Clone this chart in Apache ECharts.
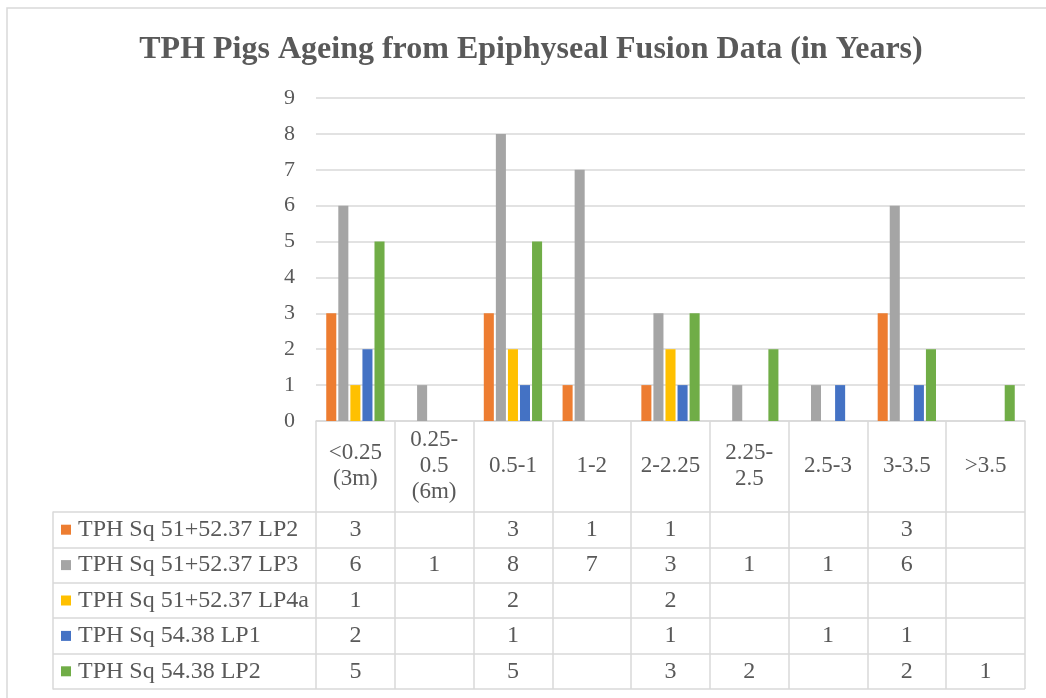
<!DOCTYPE html>
<html>
<head>
<meta charset="utf-8">
<script src="https://cdn.jsdelivr.net/npm/echarts@6/dist/echarts.min.js"></script>
<style>
  html, body { margin: 0; padding: 0; background: #fff; }
  #chart { width: 1046px; height: 698px; }
</style>
</head>
<body>
<div id="chart"></div>
<script>
// Age classes (years) along the category axis
const categories = ['<0.25\n(3m)', '0.25-\n0.5\n(6m)', '0.5-1', '1-2', '2-2.25', '2.25-\n2.5', '2.5-3', '3-3.5', '>3.5'];

// Counts per context; null = no specimens in that age class
const sq51LP2  = [3, null, 3, 1, 1, null, null, 3, null];
const sq51LP3  = [6, 1, 8, 7, 3, 1, 1, 6, null];
const sq51LP4a = [1, null, 2, null, 2, null, null, null, null];
const sq54LP1  = [2, null, 1, null, 1, null, 1, 1, null];
const sq54LP2  = [5, null, 5, null, 3, 2, null, 2, 1];

const seriesNames = ['TPH Sq 51+52.37 LP2', 'TPH Sq 51+52.37 LP3', 'TPH Sq 51+52.37 LP4a', 'TPH Sq 54.38 LP1', 'TPH Sq 54.38 LP2'];
const seriesValues = [sq51LP2, sq51LP3, sq51LP4a, sq54LP1, sq54LP2];
const colors = ['#ED7D31', '#A5A5A5', '#FFC000', '#4472C4', '#70AD47'];

// Value axis ticks
const yTicks = { min: 0, max: 9, interval: 1 };

const FONT = '"Liberation Serif", "Times New Roman", serif';
const TEXT = '#595959';
const LINE = '#d9d9d9';

// Data-table cells: [category index, series index, value]
const cellData = [];
seriesValues.forEach((vals, s) => {
  vals.forEach((v, c) => { if (v != null) cellData.push([c, s, v]); });
});

// Rich styles for the colour keys in the table's row headers
const rich = { t: { fontSize: 24, fontFamily: FONT, color: TEXT, padding: [0, 0, 0, 7] } };
colors.forEach((col, i) => {
  rich['m' + i] = { width: 10, height: 10, backgroundColor: col };
});

const chart = echarts.init(document.getElementById('chart'), null, { renderer: 'canvas' });

const option = {
  backgroundColor: '#fff',
  animation: false,
  title: {
    text: 'TPH Pigs Ageing from Epiphyseal Fusion Data (in Years)',
    left: 526, textAlign: 'center', top: 29,
    textStyle: { fontFamily: FONT, fontSize: 32, fontWeight: 'bold', color: TEXT }
  },
  graphic: [{
    type: 'rect', z: -10, silent: true,
    shape: { x: 7, y: 8, width: 1100, height: 800 },
    style: { fill: 'none', stroke: LINE, lineWidth: 1.5 }
  }],
  grid: [
    { left: 316, right: 21, top: 98, bottom: 277 },   // bar plot
    { left: 316, right: 21, top: 512, bottom: 9 }     // data table body
  ],
  xAxis: [
    {
      type: 'category', gridIndex: 0, data: categories, boundaryGap: true,
      axisLine: { lineStyle: { color: LINE, width: 1.5 } },
      axisTick: { show: true, interval: 0, length: 268, lineStyle: { color: LINE, width: 1.5 } },
      axisLabel: {
        interval: 0, margin: 45, verticalAlign: 'middle', lineHeight: 26,
        fontFamily: FONT, fontSize: 23, color: TEXT
      }
    },
    {
      type: 'category', gridIndex: 1, data: categories, boundaryGap: true,
      axisLine: { show: false }, axisTick: { show: false },
      axisLabel: { show: false }, splitLine: { show: false }
    }
  ],
  yAxis: [
    {
      type: 'value', gridIndex: 0, min: yTicks.min, max: yTicks.max, interval: yTicks.interval,
      axisLine: { show: false }, axisTick: { show: false },
      axisLabel: { margin: 21, fontFamily: FONT, fontSize: 22, color: TEXT },
      splitLine: { lineStyle: { color: LINE, width: 1.5 } }
    },
    {
      type: 'category', gridIndex: 1, data: seriesNames, inverse: true, boundaryGap: true,
      axisLine: { show: false },
      axisTick: { show: true, interval: 0, length: 263, lineStyle: { color: LINE, width: 1.5 } },
      splitLine: { show: true, interval: 0, lineStyle: { color: LINE, width: 1.5 } },
      axisLabel: {
        interval: 0, align: 'left', margin: 255,
        formatter: (v, i) => '{m' + i + '|}{t|' + v + '}',
        rich: rich
      }
    },
    {
      // left border of the table's row-header column
      type: 'category', gridIndex: 1, data: seriesNames, position: 'left', offset: 263,
      axisLine: { show: true, lineStyle: { color: LINE, width: 1.5 } },
      axisTick: { show: false }, axisLabel: { show: false }, splitLine: { show: false }
    }
  ],
  series: seriesNames.map((name, i) => ({
    name: name, type: 'bar', xAxisIndex: 0, yAxisIndex: 0,
    data: seriesValues[i],
    itemStyle: { color: colors[i] },
    barGap: '20%', barCategoryGap: '26%'
  })).concat([{
    type: 'custom', xAxisIndex: 1, yAxisIndex: 1, silent: true,
    data: cellData,
    encode: { x: 0, y: 1 },
    renderItem: (params, api) => {
      const p = api.coord([api.value(0), api.value(1)]);
      return {
        type: 'text', x: p[0], y: p[1],
        style: {
          text: String(api.value(2)), fill: TEXT,
          font: '24px ' + FONT, align: 'center', verticalAlign: 'middle'
        }
      };
    }
  }])
};

chart.setOption(option);
</script>
</body>
</html>
